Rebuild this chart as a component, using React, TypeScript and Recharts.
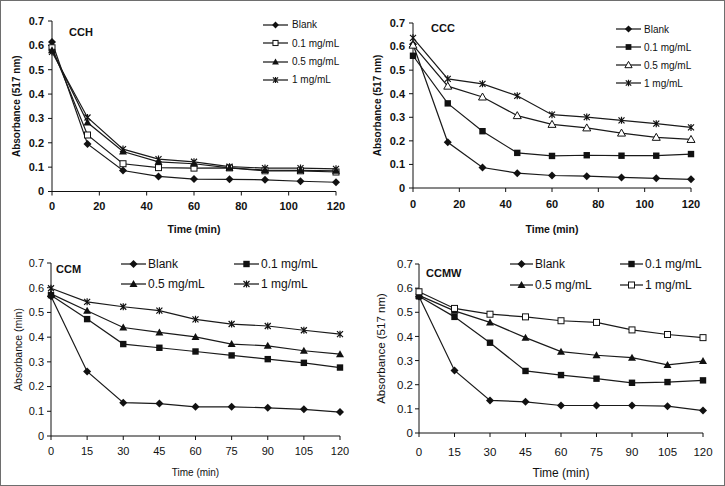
import React from "react";
import { LineChart, Line, XAxis, YAxis, Legend } from "recharts";

// sampling times (min), shared by all four panels
const times = [0, 15, 30, 45, 60, 75, 90, 105, 120];
const seriesNames = ["Blank", "0.1 mg/mL", "0.5 mg/mL", "1 mg/mL"];

const yTicks = [0, 0.1, 0.2, 0.3, 0.4, 0.5, 0.6, 0.7];
const topXTicks = [0, 20, 40, 60, 80, 100, 120];
const bottomXTicks = [0, 15, 30, 45, 60, 75, 90, 105, 120];

// CCH
const cchBlank = [0.614, 0.195, 0.086, 0.062, 0.051, 0.05, 0.048, 0.042, 0.038];
const cch01 = [0.59, 0.232, 0.114, 0.098, 0.096, 0.097, 0.085, 0.085, 0.08];
const cch05 = [0.58, 0.283, 0.164, 0.122, 0.114, 0.097, 0.088, 0.087, 0.085];
const cch1 = [0.573, 0.304, 0.174, 0.133, 0.122, 0.102, 0.096, 0.096, 0.093];

// CCC
const cccBlank = [0.61, 0.194, 0.087, 0.063, 0.053, 0.05, 0.045, 0.041, 0.037];
const ccc01 = [0.561, 0.359, 0.241, 0.149, 0.136, 0.139, 0.137, 0.137, 0.144];
const ccc05 = [0.606, 0.432, 0.386, 0.307, 0.27, 0.255, 0.233, 0.215, 0.206];
const ccc1 = [0.637, 0.463, 0.442, 0.391, 0.311, 0.301, 0.287, 0.273, 0.257];

// CCM
const ccmBlank = [0.565, 0.261, 0.135, 0.131, 0.118, 0.118, 0.114, 0.108, 0.097];
const ccm01 = [0.57, 0.473, 0.372, 0.357, 0.342, 0.326, 0.311, 0.296, 0.277];
const ccm05 = [0.575, 0.507, 0.439, 0.419, 0.401, 0.372, 0.365, 0.345, 0.331];
const ccm1 = [0.598, 0.543, 0.523, 0.507, 0.472, 0.453, 0.445, 0.428, 0.412];

// CCMW
const ccmwBlank = [0.565, 0.259, 0.135, 0.129, 0.114, 0.114, 0.114, 0.111, 0.093];
const ccmw01 = [0.566, 0.481, 0.374, 0.257, 0.24, 0.225, 0.208, 0.211, 0.218];
const ccmw05 = [0.57, 0.506, 0.458, 0.395, 0.337, 0.322, 0.312, 0.282, 0.298];
const ccmw1 = [0.585, 0.516, 0.492, 0.481, 0.465, 0.458, 0.427, 0.408, 0.395];

const INK = "#111";
const FONT = '"Liberation Sans", Arial, sans-serif';

type MarkerKind = "diamond" | "square" | "squareOpen" | "triangle" | "triangleOpen" | "star";

function Marker({ kind, cx, cy, s = 1 }: { kind: MarkerKind; cx: number; cy: number; s?: number }) {
  const r = 4 * s;
  const q = 3.2 * s;
  switch (kind) {
    case "diamond":
      return <path d={`M${cx},${cy - r}L${cx + r},${cy}L${cx},${cy + r}L${cx - r},${cy}Z`} fill={INK} />;
    case "square":
      return <rect x={cx - q} y={cy - q} width={2 * q} height={2 * q} fill={INK} />;
    case "squareOpen":
      return <rect x={cx - 3 * s} y={cy - 3 * s} width={6 * s} height={6 * s} fill="#fff" stroke={INK} strokeWidth={1} />;
    case "triangle":
      return <path d={`M${cx},${cy - r}L${cx + r},${cy + 0.75 * r}L${cx - r},${cy + 0.75 * r}Z`} fill={INK} />;
    case "triangleOpen":
      return (
        <path
          d={`M${cx},${cy - r}L${cx + r},${cy + 0.75 * r}L${cx - r},${cy + 0.75 * r}Z`}
          fill="#fff"
          stroke={INK}
          strokeWidth={1}
        />
      );
    default: {
      const a = 3 * s;
      return (
        <path
          d={`M${cx - a},${cy - a}L${cx + a},${cy + a}M${cx + a},${cy - a}L${cx - a},${cy + a}M${cx},${cy - a - 0.5}V${cy + a + 0.5}`}
          stroke={INK}
          strokeWidth={1.2}
          fill="none"
        />
      );
    }
  }
}

interface PanelConfig {
  title: string;
  titlePos: [number, number];
  values: number[][];
  markers: MarkerKind[];
  box: { x: number; y: number; w: number; h: number };
  plot: { x0: number; x1: number; y0: number; y1: number };
  xTicks: number[];
  tickSize: number;
  tickWeight: string;
  xTickMargin: number;
  yTickMargin: number;
  yLabel: string;
  yLabelSize: number;
  yLabelOffset: number;
  xLabelSize: number;
  xLabelOffset: number;
  labelWeight: string;
  legend: {
    left: number;
    top: number;
    rowH: number;
    cols: number;
    colW: number;
    line: number;
    fontSize: number;
    gap: number;
    markerScale: number;
  };
}

const panels: PanelConfig[] = [
  {
    title: "CCH",
    titlePos: [68, 31],
    values: [cchBlank, cch01, cch05, cch1],
    markers: ["diamond", "squareOpen", "triangle", "star"],
    box: { x: 0, y: 0, w: 362, h: 240 },
    plot: { x0: 51, x1: 335, y0: 20, y1: 190.5 },
    xTicks: topXTicks,
    tickSize: 11,
    tickWeight: "bold",
    xTickMargin: 6.5,
    yTickMargin: 4,
    yLabel: "Absorbance (517 nm)",
    yLabelSize: 10,
    yLabelOffset: 15,
    xLabelSize: 10.5,
    xLabelOffset: 8,
    labelWeight: "bold",
    legend: { left: 262, top: 14.8, rowH: 18.3, cols: 1, colW: 100, line: 25, fontSize: 10, gap: 4, markerScale: 0.85 },
  },
  {
    title: "CCC",
    titlePos: [68, 27],
    values: [cccBlank, ccc01, ccc05, ccc1],
    markers: ["diamond", "square", "triangleOpen", "star"],
    box: { x: 362, y: 0, w: 363, h: 240 },
    plot: { x0: 412, x1: 690, y0: 22, y1: 187 },
    xTicks: topXTicks,
    tickSize: 11,
    tickWeight: "bold",
    xTickMargin: 8.5,
    yTickMargin: 4,
    yLabel: "Absorbance (517 nm)",
    yLabelSize: 10,
    yLabelOffset: 14,
    xLabelSize: 10.5,
    xLabelOffset: 8,
    labelWeight: "bold",
    legend: { left: 253, top: 19, rowH: 18, cols: 1, colW: 100, line: 25, fontSize: 10, gap: 3, markerScale: 0.9 },
  },
  {
    title: "CCM",
    titlePos: [55, 28],
    values: [ccmBlank, ccm01, ccm05, ccm1],
    markers: ["diamond", "square", "triangle", "star"],
    box: { x: 0, y: 240, w: 362, h: 246 },
    plot: { x0: 50, x1: 339, y0: 262, y1: 435 },
    xTicks: bottomXTicks,
    tickSize: 11,
    tickWeight: "normal",
    xTickMargin: 7,
    yTickMargin: 3,
    yLabel: "Absorbance (min)",
    yLabelSize: 10.5,
    yLabelOffset: 17,
    xLabelSize: 10,
    xLabelOffset: 11,
    labelWeight: "normal",
    legend: { left: 120, top: 13, rowH: 20, cols: 2, colW: 113, line: 25, fontSize: 12, gap: 2, markerScale: 1 },
  },
  {
    title: "CCMW",
    titlePos: [63, 32],
    values: [ccmwBlank, ccmw01, ccmw05, ccmw1],
    markers: ["diamond", "square", "triangle", "squareOpen"],
    box: { x: 362, y: 240, w: 363, h: 246 },
    plot: { x0: 418, x1: 702, y0: 263, y1: 432 },
    xTicks: bottomXTicks,
    tickSize: 11.5,
    tickWeight: "normal",
    xTickMargin: 11,
    yTickMargin: 2,
    yLabel: "Absorbance (517 nm)",
    yLabelSize: 11.5,
    yLabelOffset: 18,
    xLabelSize: 12,
    xLabelOffset: 10,
    labelWeight: "normal",
    legend: { left: 147, top: 12.5, rowH: 21, cols: 2, colW: 110, line: 23, fontSize: 12, gap: 2, markerScale: 1 },
  },
];

const keys = ["s0", "s1", "s2", "s3"];

function LegendBox({ payload, cfg }: { payload?: any[]; cfg: PanelConfig }) {
  const lg = cfg.legend;
  const items = [...(payload || [])].sort(
    (a, b) => seriesNames.indexOf(a.value) - seriesNames.indexOf(b.value)
  );
  return (
    <div
      style={{
        display: "grid",
        gridTemplateColumns: `repeat(${lg.cols}, ${lg.colW}px)`,
        gridAutoRows: `${lg.rowH}px`,
        alignItems: "center",
        fontFamily: FONT,
        fontSize: lg.fontSize,
        color: INK,
        whiteSpace: "nowrap",
      }}
    >
      {items.map((it) => {
        const idx = seriesNames.indexOf(it.value);
        return (
          <div key={it.value} style={{ display: "flex", alignItems: "center" }}>
            <svg width={lg.line} height={10} style={{ overflow: "visible" }}>
              <line x1={0} y1={5} x2={lg.line} y2={5} stroke={INK} strokeWidth={1.2} />
              <Marker kind={cfg.markers[idx]} cx={lg.line / 2} cy={5} s={lg.markerScale} />
            </svg>
            <span style={{ marginLeft: lg.gap }}>{it.value}</span>
          </div>
        );
      })}
    </div>
  );
}

function Panel({ cfg }: { cfg: PanelConfig }) {
  const { box, plot } = cfg;
  const data = times.map((t, i) => ({
    t,
    s0: cfg.values[0][i],
    s1: cfg.values[1][i],
    s2: cfg.values[2][i],
    s3: cfg.values[3][i],
  }));
  const tick = { fontSize: cfg.tickSize, fontWeight: cfg.tickWeight, fill: INK, fontFamily: FONT };
  const labelStyle = { fontWeight: cfg.labelWeight, fill: INK, fontFamily: FONT };

  return (
    <div style={{ position: "absolute", left: box.x, top: box.y, width: box.w, height: box.h }}>
      <LineChart
        width={box.w}
        height={box.h}
        data={data}
        margin={{ top: plot.y0 - box.y, right: box.x + box.w - plot.x1, left: 0, bottom: 0 }}
      >
        <XAxis
          dataKey="t"
          type="number"
          domain={[0, 120]}
          ticks={cfg.xTicks}
          interval={0}
          height={box.y + box.h - plot.y1}
          tickSize={4}
          tickMargin={cfg.xTickMargin}
          tick={tick}
          axisLine={{ stroke: INK }}
          tickLine={{ stroke: INK }}
          label={{
            value: "Time (min)",
            position: "insideBottom",
            offset: cfg.xLabelOffset,
            fontSize: cfg.xLabelSize,
            style: labelStyle,
          }}
        />
        <YAxis
          type="number"
          domain={[0, 0.7]}
          ticks={yTicks}
          interval={0}
          width={plot.x0 - box.x}
          tickSize={4}
          tickMargin={cfg.yTickMargin}
          tick={tick}
          tickFormatter={(v: number) => (v === 0 ? "0" : v.toFixed(1))}
          axisLine={{ stroke: INK }}
          tickLine={{ stroke: INK }}
          label={{
            value: cfg.yLabel,
            angle: -90,
            position: "insideLeft",
            offset: cfg.yLabelOffset,
            fontSize: cfg.yLabelSize,
            style: { ...labelStyle, textAnchor: "middle" },
          }}
        />
        <Legend
          layout="vertical"
          align="center"
          verticalAlign="middle"
          wrapperStyle={{ left: cfg.legend.left, top: cfg.legend.top, width: "auto", height: "auto" }}
          content={(props: any) => <LegendBox payload={props.payload} cfg={cfg} />}
        />
        {keys.map((k, i) => (
          <Line
            key={k}
            dataKey={k}
            name={seriesNames[i]}
            stroke="#1a1a1a"
            strokeWidth={1.2}
            isAnimationActive={false}
            activeDot={false}
            dot={(p: any) => <Marker key={`${k}-${p.index}`} kind={cfg.markers[i]} cx={p.cx} cy={p.cy} />}
          />
        ))}
      </LineChart>
      <div
        style={{
          position: "absolute",
          left: cfg.titlePos[0],
          top: cfg.titlePos[1] - 7,
          fontFamily: FONT,
          fontWeight: "bold",
          fontSize: 11,
          lineHeight: "14px",
          color: INK,
        }}
      >
        {cfg.title}
      </div>
    </div>
  );
}

export default function App() {
  return (
    <div
      style={{
        position: "absolute",
        left: 0,
        top: 0,
        width: 725,
        height: 486,
        background: "#fff",
        border: "1px solid #6e6e6e",
        boxSizing: "border-box",
        overflow: "hidden",
      }}
    >
      {panels.map((p) => (
        <Panel key={p.title} cfg={p} />
      ))}
    </div>
  );
}
